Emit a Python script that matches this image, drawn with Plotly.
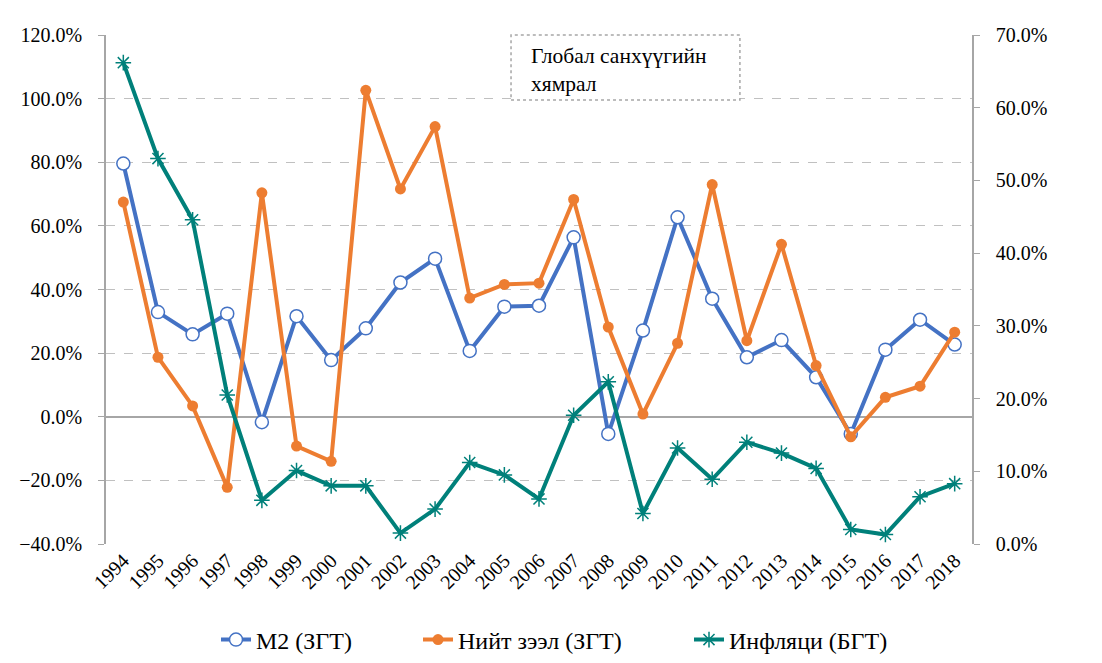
import plotly.graph_objects as go

years = [str(y) for y in range(1994, 2019)]
m2 = [79.6, 32.9, 25.9, 32.4, -1.7, 31.6, 17.8, 27.8, 42.2, 49.7, 20.7, 34.6, 34.9,
      56.4, -5.4, 27.1, 62.7, 37.1, 18.7, 24.1, 12.4, -5.4, 21.1, 30.5, 22.7]
loans = [67.5, 18.7, 3.4, -22.2, 70.4, -9.2, -14.0, 102.6, 71.6, 91.2, 37.3, 41.6, 42.0,
         68.3, 28.2, 0.85, 23.1, 73.0, 23.9, 54.2, 16.1, -6.3, 6.1, 9.6, 26.6]
inflation = [66.2, 53.0, 44.6, 20.5, 6.0, 10.1, 8.0, 8.0, 1.5, 4.8, 11.2, 9.5, 6.2,
             17.7, 22.3, 4.2, 13.2, 8.9, 14.0, 12.5, 10.4, 2.0, 1.3, 6.5, 8.3]

FONT = "'Liberation Serif', 'Times New Roman', serif"
BLUE = "#4472C4"
ORANGE = "#ED7D31"
TEAL = "#00807A"

W, H = 1094, 655  # page body has an 8px margin

fig = go.Figure()
fig.add_trace(go.Scatter(
    x=years, y=m2, name="M2 (ЗГТ)", mode="lines+markers",
    line=dict(color=BLUE, width=4),
    marker=dict(symbol="circle", size=13, color="white", line=dict(color=BLUE, width=1.5)),
    yaxis="y", legend="legend"))
fig.add_trace(go.Scatter(
    x=years, y=loans, name="Нийт зээл (ЗГТ)", mode="lines+markers",
    line=dict(color=ORANGE, width=4),
    marker=dict(symbol="circle", size=11, color=ORANGE),
    yaxis="y", legend="legend2"))
fig.add_trace(go.Scatter(
    x=years, y=inflation, name="Инфляци (БГТ)", mode="lines+markers",
    line=dict(color=TEAL, width=4),
    marker=dict(symbol="asterisk-open", size=13, line=dict(color=TEAL, width=1.5)),
    yaxis="y2", legend="legend3"))

# text box
fig.add_shape(type="rect", xref="paper", yref="paper",
              x0=0.4677, x1=0.732, y0=0.8723, y1=1.0,
              line=dict(color="#a6a6a6", width=1.5, dash="dot"),
              fillcolor="white", layer="above")
fig.add_annotation(xref="paper", yref="paper", x=0.489, y=0.986,
                   xanchor="left", yanchor="top", align="left", showarrow=False,
                   text="Глобал санхүүгийн<br>хямрал",
                   font=dict(family=FONT, size=21.5, color="black"))

def leg(xpix):
    return dict(orientation="h", xref="container", x=(xpix - 8) / W, xanchor="left",
                yref="container", yanchor="middle", y=23 / H,
                font=dict(family=FONT, size=24, color="black"),
                bgcolor="rgba(0,0,0,0)", borderwidth=0)

fig.update_layout(
    width=W, height=H,
    margin=dict(l=98, r=130, t=27, b=119, autoexpand=False),
    paper_bgcolor="white", plot_bgcolor="white",
    font=dict(family=FONT, size=20, color="black"),
    showlegend=True,
    legend=leg(216), legend2=leg(418), legend3=leg(689),
    xaxis=dict(type="category", range=[-0.5, 24.5], tickangle=-45,
               showgrid=False, showline=False, zeroline=False, ticks="",
               automargin=False,
               tickfont=dict(family=FONT, size=20, color="black")),
    yaxis=dict(range=[-40, 120], dtick=20, tickformat=".1f", ticksuffix="%",
               showgrid=True, gridcolor="#c0c0c0", griddash="dash", gridwidth=1,
               zeroline=True, zerolinecolor="#a6a6a6", zerolinewidth=1.5,
               showline=True, linecolor="#a6a6a6", linewidth=1.5,
               ticks="outside", ticklen=6, tickcolor="#a6a6a6",
               ticklabelstandoff=12, automargin=False,
               tickfont=dict(family=FONT, size=20, color="black")),
    yaxis2=dict(range=[0, 70], dtick=10, tickformat=".1f", ticksuffix="%",
                overlaying="y", side="right", showgrid=False, zeroline=False,
                showline=True, linecolor="#a6a6a6", linewidth=1.5,
                ticks="outside", ticklen=6, tickcolor="#a6a6a6",
                ticklabelstandoff=12, automargin=False,
                tickfont=dict(family=FONT, size=20, color="black")),
)

fig.write_html("out.html")
